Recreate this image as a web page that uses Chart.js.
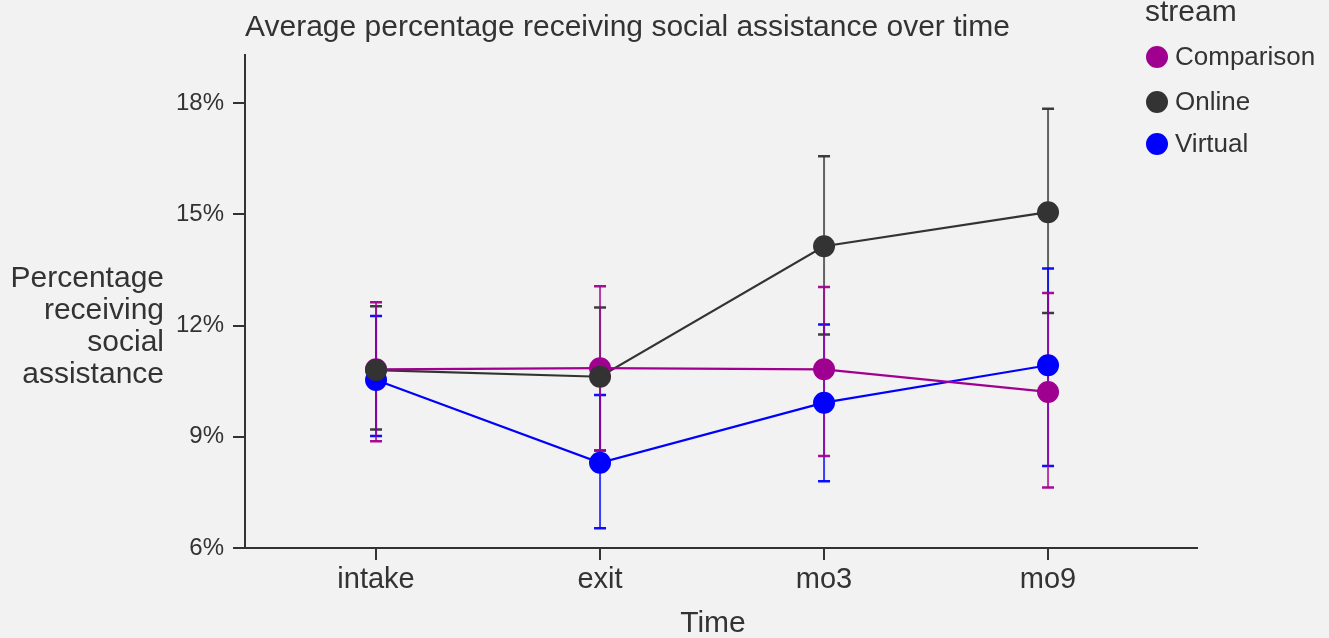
<!DOCTYPE html>
<html><head><meta charset="utf-8">
<script src="https://cdn.jsdelivr.net/npm/chart.js@4/dist/chart.umd.min.js"></script>
<style>html,body{margin:0;padding:0;background:#f2f2f2;}#wrap{width:1329px;height:638px;}</style>
</head><body><div id="wrap"><canvas id="c" width="1329" height="638"></canvas></div>
<script>
const categories = ['intake', 'exit', 'mo3', 'mo9'];
const streams = ['Comparison', 'Online', 'Virtual'];
const comparisonMean = [10.82, 10.85, 10.82, 10.21];
const comparisonLow  = [8.88, 8.63, 8.48, 7.63];
const comparisonHigh = [12.63, 13.06, 13.04, 12.88];
const onlineMean = [10.80, 10.62, 14.14, 15.06];
const onlineLow  = [9.20, 8.63, 11.76, 12.34];
const onlineHigh = [12.52, 12.49, 16.57, 17.85];
const virtualMean = [10.53, 8.30, 9.92, 10.93];
const virtualLow  = [9.02, 6.53, 7.80, 8.21];
const virtualHigh = [12.26, 10.13, 12.03, 13.54];
const yTicks = [6, 9, 12, 15, 18];
const chartTitle = 'Average percentage receiving social assistance over time';
const yTitleLines = ['Percentage', 'receiving', 'social', 'assistance'];
const xTitle = 'Time';
const legendTitle = 'stream';

const colors = {Comparison: '#a0008f', Online: '#333333', Virtual: '#0000ff'};
const FONT = '"Liberation Sans", Arial, sans-serif';
const series = {
  Comparison: {mean: comparisonMean, low: comparisonLow, high: comparisonHigh},
  Online: {mean: onlineMean, low: onlineLow, high: onlineHigh},
  Virtual: {mean: virtualMean, low: virtualLow, high: virtualHigh}
};
const pts = arr => arr.map((v, i) => ({x: i, y: v}));

const lineOrder = {Comparison: 3, Online: 4, Virtual: 5};
const pointOrder = {Comparison: 2, Virtual: 1, Online: 0};
const errOrder = ['Online', 'Virtual', 'Comparison'];
const datasets = [];
streams.forEach(s => {
  datasets.push({label: s + ' line', data: pts(series[s].mean), borderColor: colors[s], backgroundColor: colors[s],
    borderWidth: 2.2, pointRadius: 0, showLine: true, order: lineOrder[s]});
});
streams.forEach(s => {
  datasets.push({label: s, data: pts(series[s].mean), borderColor: colors[s], backgroundColor: colors[s],
    borderWidth: 0, pointRadius: 11, pointHoverRadius: 11, showLine: false, order: pointOrder[s]});
});

const errorBars = {
  id: 'errorBars',
  beforeDatasetsDraw(chart) {
    const ctx = chart.ctx, xs = chart.scales.x, ys = chart.scales.y;
    ctx.save();
    errOrder.forEach(s => {
      const d = series[s];
      d.mean.forEach((m, i) => {
        const x = xs.getPixelForValue(i);
        const yl = ys.getPixelForValue(d.low[i]);
        const yh = ys.getPixelForValue(d.high[i]);
        ctx.strokeStyle = colors[s];
        ctx.globalAlpha = 0.75;
        ctx.lineWidth = 2;
        ctx.beginPath(); ctx.moveTo(x, yl); ctx.lineTo(x, yh); ctx.stroke();
        ctx.globalAlpha = 0.95;
        ctx.lineWidth = 2.5;
        ctx.beginPath();
        ctx.moveTo(x - 6, yl); ctx.lineTo(x + 6, yl);
        ctx.moveTo(x - 6, yh); ctx.lineTo(x + 6, yh);
        ctx.stroke();
      });
    });
    ctx.restore();
  }
};

const texts = {
  id: 'texts',
  afterDraw(chart) {
    const ctx = chart.ctx;
    ctx.save();
    ctx.fillStyle = '#333333';
    ctx.font = '30px ' + FONT;
    ctx.textAlign = 'left'; ctx.textBaseline = 'alphabetic';
    ctx.fillText(chartTitle, 245, 36);
    ctx.textAlign = 'right';
    yTitleLines.forEach((t, i) => ctx.fillText(t, 164, 287 + i * 32));
    ctx.textAlign = 'center';
    ctx.fillText(xTitle, 713, 632);
    ctx.textAlign = 'left';
    ctx.fillText(legendTitle, 1145, 21);
    ctx.font = '26px ' + FONT; ctx.textBaseline = 'middle';
    streams.forEach((s, i) => {
      const y = [57, 102, 144][i];
      ctx.fillStyle = colors[s];
      ctx.beginPath(); ctx.arc(1157, y, 11, 0, Math.PI * 2); ctx.fill();
      ctx.fillStyle = '#333333';
      ctx.fillText(s, 1175, y + 1);
    });
    ctx.restore();
  }
};

new Chart(document.getElementById('c'), {
  type: 'line',
  data: {datasets},
  plugins: [errorBars, texts],
  options: {
    responsive: false, animation: false,
    layout: {padding: {left: 0, right: 132, top: 55, bottom: 0}},
    plugins: {legend: {display: false}, tooltip: {enabled: false}, title: {display: false}},
    scales: {
      x: {
        type: 'linear', min: -0.585, max: 3.665,
        afterBuildTicks: sc => { sc.ticks = categories.map((c, i) => ({value: i})); },
        afterFit: sc => { sc.height = 90; },
        ticks: {callback: v => categories[v], color: '#333333', font: {family: FONT, size: 29}, padding: 3, maxRotation: 0, autoSkip: false},
        grid: {display: true, drawOnChartArea: false, drawTicks: true, tickLength: 12, color: '#333333', lineWidth: 2},
        border: {display: true, color: '#333333', width: 2}
      },
      y: {
        type: 'linear', min: 6, max: 19.3,
        afterBuildTicks: sc => { sc.ticks = yTicks.map(v => ({value: v})); },
        afterFit: sc => { sc.width = 245; },
        ticks: {callback: v => v + '%', color: '#333333', font: {family: FONT, size: 24}, padding: 9},
        grid: {display: true, drawOnChartArea: false, drawTicks: true, tickLength: 12, color: '#333333', lineWidth: 2},
        border: {display: true, color: '#333333', width: 2}
      }
    }
  }
});
</script></body></html>
